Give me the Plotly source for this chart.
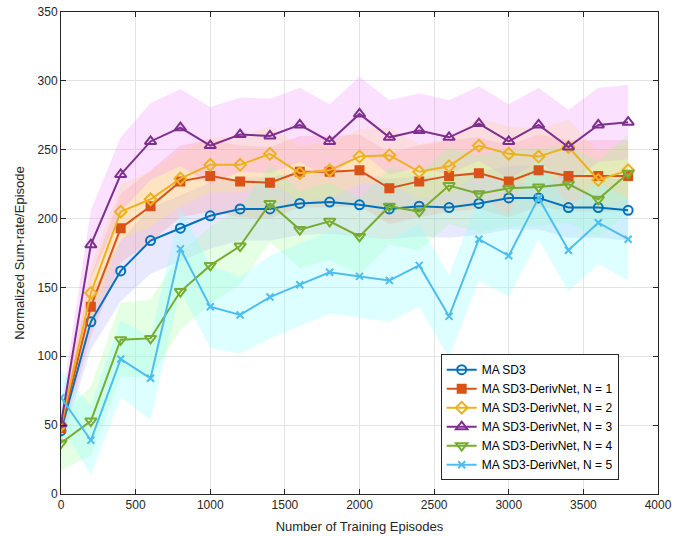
import plotly.graph_objects as go

episodes = [0, 200, 400, 600, 800, 1000, 1200, 1400, 1600, 1800, 2000,
            2200, 2400, 2600, 2800, 3000, 3200, 3400, 3600, 3800]

sd3 = [46, 125, 162, 184, 193, 202, 207, 207, 211, 212, 210, 207, 209, 208, 211, 215, 215, 208, 208, 206]
n1 = [48, 136, 193, 209, 227, 231, 227, 226, 234, 234, 235, 222, 227, 231, 233, 227, 235, 231, 231, 231]
n2 = [50, 146, 205, 214, 229, 239, 239, 247, 233, 235, 245, 246, 234, 238, 253, 247, 245, 252, 228, 235]
n3 = [51, 181, 232, 256, 266, 253, 261, 260, 268, 256, 276, 259, 264, 259, 269, 256, 268, 252, 268, 270]
n4 = [37, 53, 112, 113, 147, 166, 180, 211, 192, 198, 187, 209, 205, 224, 218, 222, 223, 225, 214, 233]
n5 = [70, 39, 98, 84, 178, 136, 130, 143, 152, 161, 158, 155, 166, 129, 185, 173, 215, 177, 197, 185]

# band half-widths read from the shaded regions
sd3_spread = [10, 20, 22, 24, 24, 24, 23, 23, 23, 23, 23, 22, 22, 22, 23, 23, 23, 22, 22, 22]
n1_spread = [10, 22, 25, 26, 26, 26, 26, 26, 26, 26, 26, 26, 26, 26, 26, 26, 26, 26, 26, 26]
n2_spread = [10, 20, 20, 20, 20, 20, 20, 20, 20, 20, 20, 20, 20, 20, 20, 20, 20, 20, 20, 20]
n3_spread = [12, 25, 27, 28, 28, 28, 27, 27, 27, 27, 27, 27, 27, 27, 27, 27, 27, 27, 27, 27]
n4_spread = [20, 25, 27, 28, 28, 28, 28, 28, 28, 28, 28, 28, 28, 28, 28, 28, 28, 28, 28, 28]
n5_spread = [20, 25, 28, 30, 30, 30, 28, 30, 30, 30, 30, 30, 30, 30, 30, 30, 30, 30, 30, 30]

names = ["MA SD3", "MA SD3-DerivNet, N = 1", "MA SD3-DerivNet, N = 2",
         "MA SD3-DerivNet, N = 3", "MA SD3-DerivNet, N = 4", "MA SD3-DerivNet, N = 5"]
series = [sd3, n1, n2, n3, n4, n5]
spreads = [sd3_spread, n1_spread, n2_spread, n3_spread, n4_spread, n5_spread]
colors = ["#0072BD", "#D95319", "#EDB120", "#7E2F8E", "#77AC30", "#4DBEEE"]
band_colors = ["rgba(150,150,255,0.22)", "rgba(255,140,140,0.24)", "rgba(255,230,110,0.28)",
               "rgba(240,140,255,0.26)", "rgba(150,255,150,0.25)", "rgba(150,255,255,0.32)"]
symbols = ["circle-open", "square", "diamond-open", "triangle-up-open", "triangle-down-open", "x-thin-open"]
sizes = [9, 8, 9, 10, 10, 7]

fig = go.Figure()
for y, s, bc in zip(series, spreads, band_colors):
    up = [a + b for a, b in zip(y, s)]
    lo = [a - b for a, b in zip(y, s)]
    fig.add_trace(go.Scatter(x=episodes + episodes[::-1], y=up + lo[::-1], fill="toself",
                             fillcolor=bc, line=dict(width=0), mode="lines",
                             showlegend=False, hoverinfo="skip"))

for y, name, c, sym, sz in zip(series, names, colors, symbols, sizes):
    fig.add_trace(go.Scatter(x=episodes, y=y, name=name, mode="lines+markers",
                             line=dict(color=c, width=2),
                             marker=dict(symbol=sym, size=sz, color=c,
                                         line=dict(color=c, width=2))))

axis_common = dict(showgrid=True, gridcolor="#e3e3e3", gridwidth=1,
                   showline=True, linecolor="#262626", linewidth=1, mirror="ticks",
                   ticks="inside", ticklen=5, tickcolor="#262626", zeroline=False,
                   automargin=False,
                   tickfont=dict(size=12, color="#262626"))

fig.update_xaxes(range=[0, 4000], dtick=500, title=dict(text="Number of Training Episodes", standoff=10,
                 font=dict(size=13, color="#262626")), **axis_common)
fig.update_yaxes(range=[0, 350], dtick=50, title=dict(text="Normalized Sum-rate/Episode", standoff=10,
                 font=dict(size=13, color="#262626")), **axis_common)

fig.update_layout(
    width=674, height=536,
    margin=dict(l=61, r=16, t=12, b=42),
    plot_bgcolor="white", paper_bgcolor="white",
    font=dict(family="Liberation Sans, Arial, sans-serif", size=12, color="#262626"),
    legend=dict(x=0.636, y=0.29, xanchor="left", yanchor="top",
                bgcolor="white", bordercolor="#262626", borderwidth=1,
                font=dict(size=12, color="#000000"), tracegroupgap=0,
                itemwidth=30),
    showlegend=True,
)

fig.write_html("out.html", config={"displayModeBar": False},
               post_script="document.body.style.margin='0';document.body.style.padding='0';")
